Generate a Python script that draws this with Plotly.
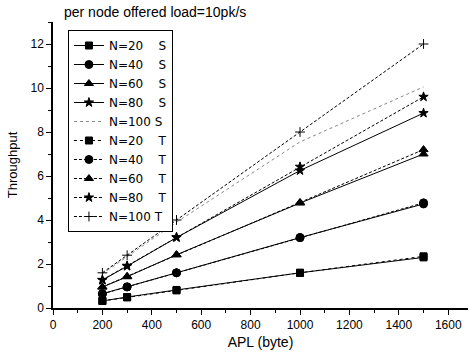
import plotly.graph_objects as go

apl = [200, 300, 500, 1000, 1500]

s20 = [0.32, 0.50, 0.82, 1.60, 2.30]
s40 = [0.65, 0.96, 1.60, 3.20, 4.73]
s60 = [0.95, 1.42, 2.42, 4.77, 7.00]
s80 = [1.27, 1.90, 3.20, 6.25, 8.86]
s100 = [1.55, 2.33, 3.90, 7.55, 10.05]

t20 = [0.32, 0.48, 0.80, 1.60, 2.35]
t40 = [0.64, 0.96, 1.60, 3.20, 4.78]
t60 = [0.96, 1.44, 2.42, 4.80, 7.20]
t80 = [1.28, 1.92, 3.22, 6.42, 9.60]
t100 = [1.60, 2.40, 4.00, 8.00, 12.00]

names = ["N=20\u00a0\u00a0\u00a0\u00a0S", "N=40\u00a0\u00a0\u00a0\u00a0S", "N=60\u00a0\u00a0\u00a0\u00a0S",
         "N=80\u00a0\u00a0\u00a0\u00a0S", "N=100\u00a0S",
         "N=20\u00a0\u00a0\u00a0\u00a0T", "N=40\u00a0\u00a0\u00a0\u00a0T", "N=60\u00a0\u00a0\u00a0\u00a0T",
         "N=80\u00a0\u00a0\u00a0\u00a0T", "N=100\u00a0T"]

series = [s20, s40, s60, s80, s100, t20, t40, t60, t80, t100]
symbols = ["square", "circle", "triangle-up", "star", None,
           "square", "circle", "triangle-up", "star", "cross-thin"]
dashes = ["solid"] * 4 + ["dot", "dot", "3px,2px", "3px,2px", "3px,2px", "3px,2px"]
sizes = [7, 8, 8, 7, 0, 7, 8, 8, 7, 7]

fig = go.Figure()
for i, (nm, ys) in enumerate(zip(names, series)):
    sym = symbols[i]
    color = "#888" if i == 4 else "black"
    fig.add_trace(go.Scatter(
        x=apl, y=ys, name=nm,
        mode="lines+markers" if sym else "lines",
        line=dict(color=color, width=1, dash=dashes[i]),
        marker=dict(symbol=sym if sym else "circle", size=sizes[i], color="black",
                    line=dict(color="black", width=1)),
    ))

fig.update_layout(
    width=470, height=355,
    margin=dict(l=53, r=2, t=22, b=47),
    paper_bgcolor="white", plot_bgcolor="white",
    font=dict(family="Arial, Liberation Sans, sans-serif", color="black", size=12),
    showlegend=True,
    legend=dict(x=0.036, y=0.972, xanchor="left", yanchor="top",
                bordercolor="black", borderwidth=1, bgcolor="white",
                font=dict(size=12, family="DejaVu Sans"), tracegroupgap=0),
)
fig.add_annotation(text="per node offered load=10pk/s", xref="paper", yref="paper",
                   x=(62 - 53) / 415, y=1 + (22 - 12) / 286, xanchor="left", yanchor="middle",
                   showarrow=False, font=dict(size=14))

fig.update_xaxes(range=[0, 1680], tickvals=[0, 200, 400, 600, 800, 1000, 1200, 1400, 1600],
                 ticks="outside", ticklen=5, tickwidth=1, tickcolor="black",
                 minor=dict(dtick=100, ticks="outside", ticklen=3, tickcolor="black"),
                 showline=True, linecolor="black", linewidth=1.5, showgrid=False, zeroline=False,
                 title=dict(text="APL (byte)", font=dict(size=14), standoff=6),
                 tickfont=dict(size=12))
fig.update_yaxes(range=[0, 13], tickvals=[0, 2, 4, 6, 8, 10, 12],
                 ticks="outside", ticklen=5, tickwidth=1, tickcolor="black",
                 minor=dict(dtick=1, ticks="outside", ticklen=3, tickcolor="black"),
                 showline=True, linecolor="black", linewidth=1.5, showgrid=False, zeroline=False,
                 title=dict(text="Throughput", font=dict(size=13), standoff=10),
                 tickfont=dict(size=12))

fig.write_html("out.html")
